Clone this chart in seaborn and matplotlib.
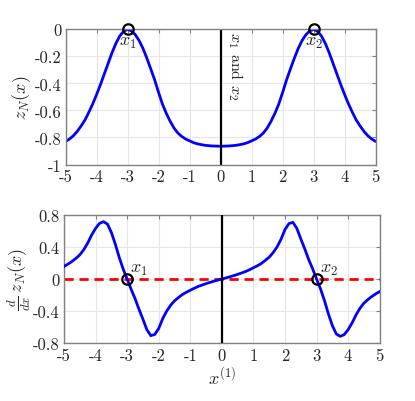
import numpy as np
import pandas as pd
import matplotlib
matplotlib.use("Agg")
import matplotlib.pyplot as plt
import seaborn as sns

# ---- data (step 0.125 in x) ----
x_vals = [-5.0, -4.875, -4.75, -4.625, -4.5, -4.375, -4.25, -4.125,
          -4.0, -3.875, -3.75, -3.625, -3.5, -3.375, -3.25, -3.125,
          -3.0, -2.875, -2.75, -2.625, -2.5, -2.375, -2.25, -2.125,
          -2.0, -1.875, -1.75, -1.625, -1.5, -1.375, -1.25, -1.125,
          -1.0, -0.875, -0.75, -0.625, -0.5, -0.375, -0.25, -0.125,
          0.0,
          0.125, 0.25, 0.375, 0.5, 0.625, 0.75, 0.875, 1.0,
          1.125, 1.25, 1.375, 1.5, 1.625, 1.75, 1.875, 2.0,
          2.125, 2.25, 2.375, 2.5, 2.625, 2.75, 2.875, 3.0,
          3.125, 3.25, 3.375, 3.5, 3.625, 3.75, 3.875, 4.0,
          4.125, 4.25, 4.375, 4.5, 4.625, 4.75, 4.875, 5.0]

zN = [-0.830, -0.812, -0.788, -0.756, -0.716, -0.672, -0.615, -0.553,
      -0.484, -0.410, -0.331, -0.252, -0.173, -0.104, -0.049, -0.015,
      0.000, -0.012, -0.040, -0.084, -0.143, -0.215, -0.294, -0.375,
      -0.467, -0.553, -0.622, -0.681, -0.731, -0.768, -0.793, -0.812,
      -0.825, -0.838, -0.847, -0.853, -0.858, -0.861, -0.863, -0.864,
      -0.865,
      -0.864, -0.863, -0.861, -0.858, -0.853, -0.847, -0.838, -0.825,
      -0.812, -0.793, -0.768, -0.731, -0.681, -0.622, -0.553, -0.467,
      -0.375, -0.294, -0.215, -0.143, -0.084, -0.040, -0.012, 0.000,
      -0.015, -0.049, -0.104, -0.173, -0.252, -0.331, -0.410, -0.484,
      -0.553, -0.615, -0.672, -0.716, -0.756, -0.788, -0.812, -0.830]

dzN = [0.156, 0.185, 0.218, 0.256, 0.301, 0.364, 0.447, 0.547,
       0.630, 0.692, 0.713, 0.684, 0.580, 0.434, 0.268, 0.123,
       0.000, -0.127, -0.243, -0.376, -0.500, -0.630, -0.705, -0.690,
       -0.615, -0.495, -0.400, -0.328, -0.272, -0.231, -0.193, -0.165,
       -0.140, -0.115, -0.093, -0.075, -0.058, -0.042, -0.027, -0.013,
       0.000,
       0.013, 0.027, 0.042, 0.058, 0.075, 0.093, 0.115, 0.140,
       0.165, 0.193, 0.231, 0.272, 0.328, 0.400, 0.495, 0.615,
       0.690, 0.705, 0.630, 0.500, 0.376, 0.243, 0.127, 0.000,
       -0.123, -0.268, -0.434, -0.580, -0.684, -0.713, -0.692, -0.630,
       -0.547, -0.447, -0.364, -0.301, -0.256, -0.218, -0.185, -0.156]

roots_x = [-3.0, 3.0]
roots_y = [0.0, 0.0]
root_labels = ["$x_1$", "$x_2$"]
x_ticks = [-5, -4, -3, -2, -1, 0, 1, 2, 3, 4, 5]
top_yticks = [-1, -0.8, -0.6, -0.4, -0.2, 0]
top_ytick_labels = ["-1", "-0.8", "-0.6", "-0.4", "-0.2", "0"]
bot_yticks = [-0.8, -0.4, 0, 0.4, 0.8]
bot_ytick_labels = ["-0.8", "-0.4", "0", "0.4", "0.8"]

df = pd.DataFrame({"x": x_vals, "z": zN, "dz": dzN})

sns.set_theme(style="whitegrid")
plt.rcParams["font.family"] = ["cmr10", "DejaVu Serif"]
plt.rcParams["mathtext.fontset"] = "cm"
plt.rcParams["axes.unicode_minus"] = False
plt.rcParams["axes.formatter.use_mathtext"] = True

W, H = 415, 402
fig = plt.figure(figsize=(W / 100, H / 100), dpi=100)
fig.patch.set_facecolor("white")

def frac(l, r, t, b):
    return [l / W, 1 - b / H, (r - l) / W, (b - t) / H]

ax1 = fig.add_axes(frac(65.5, 375.7, 30.3, 165.5))
ax2 = fig.add_axes(frac(64.0, 379.7, 215.7, 344.3))

edge = "#808080"
gridc = "#e6e6e6"
txt = "#262626"
for ax in (ax1, ax2):
    ax.set_facecolor("white")
    for s in ax.spines.values():
        s.set_color(edge)
        s.set_linewidth(1.0)
    ax.grid(True, color=gridc, linewidth=0.8)
    ax.tick_params(direction="in", length=3, width=0.8, color=edge,
                   labelsize=12, labelcolor=txt, pad=3,
                   top=True, right=True)
    ax.set_xlim(-5, 5)
    ax.set_xticks(x_ticks)
    ax.set_xticklabels([str(t) for t in x_ticks])

# ---- top ----
sns.lineplot(data=df, x="x", y="z", ax=ax1, color="blue", linewidth=2.0)
ax1.axvline(0, color="black", linewidth=1.6)
ax1.plot(roots_x, roots_y, "o", mfc="none", mec="black", mew=1.6, ms=7.5,
         clip_on=False, zorder=5)
for rx, lab in zip(roots_x, root_labels):
    ax1.text(rx, -0.1, lab, ha="center", va="center", fontsize=13, color=txt)
ax1.text(0.17, -0.012, "$x_1$ and $x_2$", rotation=-90, ha="left", va="top",
         fontsize=11.5, color=txt)
ax1.set_ylim(-1, 0)
ax1.set_yticks(top_yticks)
ax1.set_yticklabels(top_ytick_labels)
ax1.set_xlabel("")
ax1.set_ylabel("$z_N(x)$", fontsize=13, color=txt, labelpad=1)

# ---- bottom ----
sns.lineplot(data=df, x="x", y="dz", ax=ax2, color="blue", linewidth=2.0, zorder=3)
ax2.axhline(0, color="red", linewidth=2.0, linestyle=(0, (3.3, 2.1)), zorder=2)
ax2.axvline(0, color="black", linewidth=1.6, zorder=4)
ax2.plot(roots_x, roots_y, "o", mfc="none", mec="black", mew=1.6, ms=7.5, zorder=5)
for rx, lab in zip(roots_x, root_labels):
    ax2.text(rx + 0.1, 0.125, lab, ha="left", va="center", fontsize=13, color=txt)
ax2.set_ylim(-0.8, 0.8)
ax2.set_yticks(bot_yticks)
ax2.set_yticklabels(bot_ytick_labels)
ax2.set_xlabel("$x^{(1)}$", fontsize=13, color=txt, labelpad=1)
ax2.set_ylabel(r"$\frac{d}{dx}\,z_N(x)$", fontsize=13, color=txt, labelpad=0)

fig.savefig("out.png", dpi=100, facecolor="white")
